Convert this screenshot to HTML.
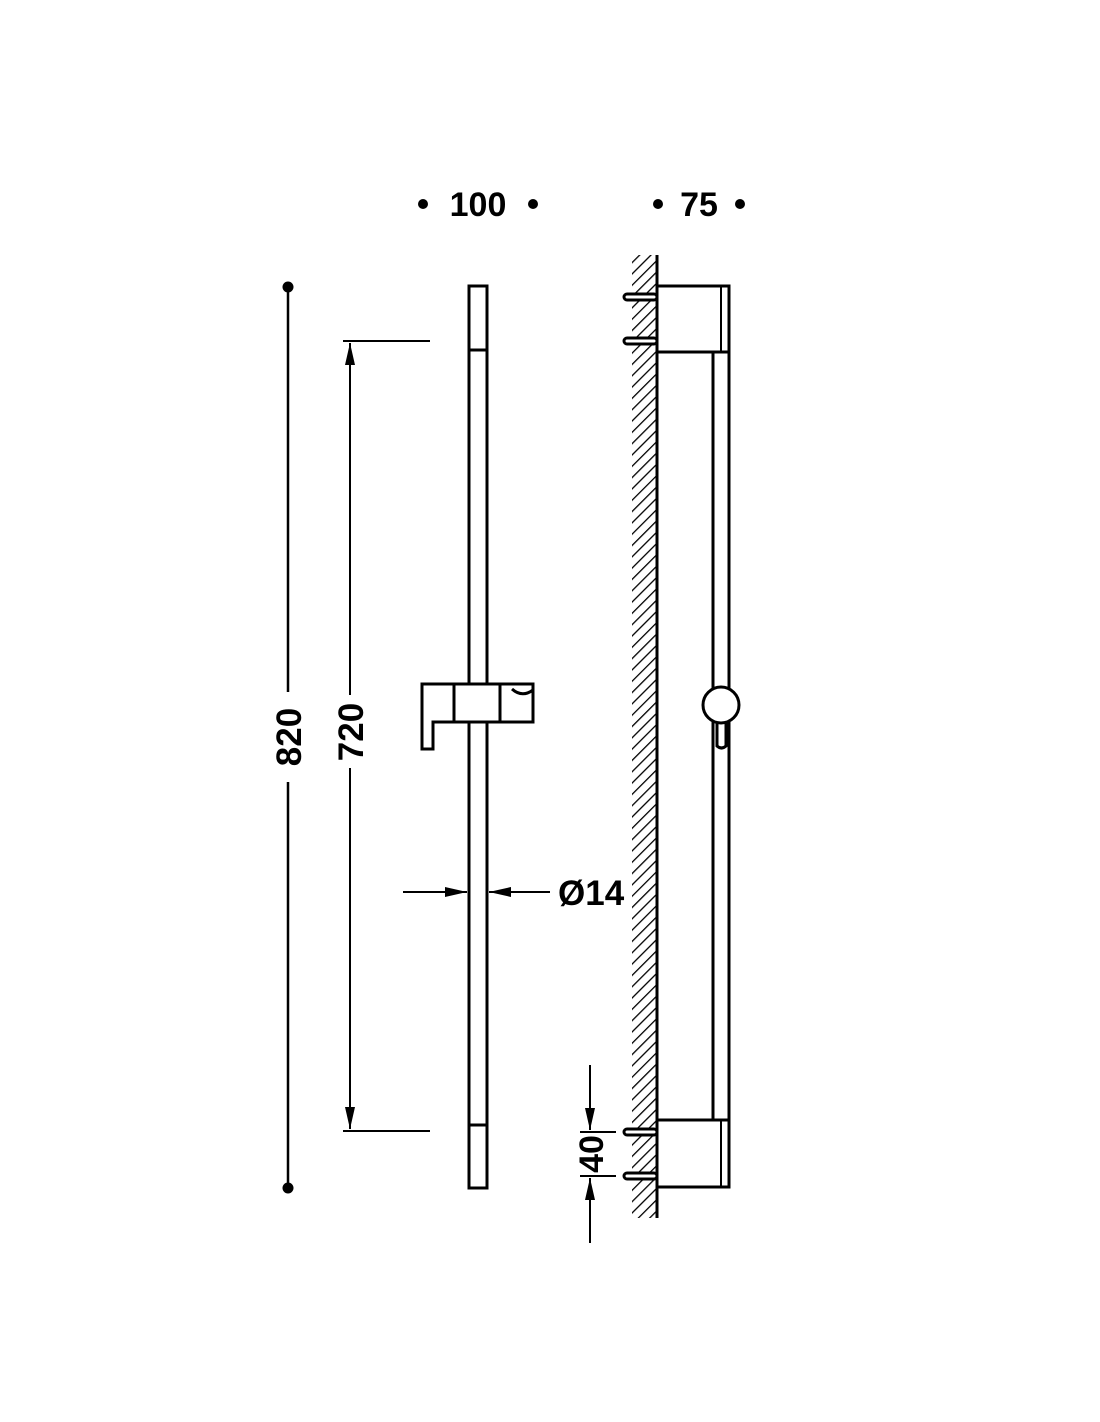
<!DOCTYPE html>
<html><head><meta charset="utf-8"><style>
html,body{margin:0;padding:0;background:#fff}
svg{display:block}
text{font-family:"Liberation Sans",sans-serif;font-weight:bold;fill:#000}
</style></head><body>
<svg width="1100" height="1422" viewBox="0 0 1100 1422" xmlns="http://www.w3.org/2000/svg">
<defs>
<pattern id="h" width="8" height="8" patternUnits="userSpaceOnUse" patternTransform="rotate(45)">
<line x1="0" y1="0" x2="0" y2="8" stroke="#000" stroke-width="2.6"/>
</pattern>
<marker id="a" markerWidth="24" markerHeight="12" refX="22" refY="6" orient="auto" markerUnits="userSpaceOnUse"><path d="M0,1 L22,6 L0,11 Z" fill="#000"/></marker>
</defs>
<text x="478" y="216" font-size="34" text-anchor="middle">100</text>
<circle cx="423" cy="204" r="5" fill="#000"/><circle cx="533" cy="204" r="5" fill="#000"/>
<text x="699" y="216" font-size="34" text-anchor="middle">75</text>
<circle cx="658" cy="204" r="5" fill="#000"/><circle cx="740" cy="204" r="5" fill="#000"/>

<!-- 820 dim -->
<g stroke="#000" stroke-width="2.5" fill="none">
<line x1="288" y1="287" x2="288" y2="692"/>
<line x1="288" y1="782" x2="288" y2="1188"/>
</g>
<circle cx="288" cy="287" r="5.5" fill="#000"/><circle cx="288" cy="1188" r="5.5" fill="#000"/>
<text transform="translate(301,737) rotate(-90)" font-size="35" text-anchor="middle">820</text>

<!-- 720 dim -->
<g stroke="#000" stroke-width="2" fill="none">
<line x1="343" y1="341" x2="430" y2="341"/>
<line x1="343" y1="1131" x2="430" y2="1131"/>
<line x1="350" y1="695" x2="350" y2="343" marker-end="url(#a)"/>
<line x1="350" y1="768" x2="350" y2="1129" marker-end="url(#a)"/>
</g>
<text transform="translate(363,732) rotate(-90)" font-size="35" text-anchor="middle">720</text>

<!-- front bar -->
<g stroke="#000" stroke-width="3" fill="#fff">
<rect x="469" y="286" width="18" height="902"/>
<line x1="469" y1="350" x2="487" y2="350"/>
<line x1="469" y1="1125" x2="487" y2="1125"/>
<path d="M422,684 L533,684 L533,722 L433,722 L433,749 L422,749 Z"/>
<line x1="454" y1="684" x2="454" y2="722"/>
<line x1="500" y1="684" x2="500" y2="722"/>
<path d="M512,689 Q522,698 533,690" fill="none"/>
</g>

<!-- Ø14 -->
<g stroke="#000" stroke-width="2" fill="none">
<line x1="403" y1="892" x2="467" y2="892" marker-end="url(#a)"/>
<line x1="550" y1="892" x2="489" y2="892" marker-end="url(#a)"/>
</g>
<text x="558" y="905" font-size="35">Ø14</text>

<!-- side view -->
<rect x="632" y="255" width="25" height="963" fill="url(#h)"/>
<g stroke="#000" stroke-width="3" fill="#fff">
<line x1="657" y1="255" x2="657" y2="1218"/>
<rect x="624" y="294" width="33" height="6" rx="3"/>
<rect x="624" y="338" width="33" height="6" rx="3"/>
<rect x="624" y="1129" width="33" height="6" rx="3"/>
<rect x="624" y="1173" width="33" height="6" rx="3"/>
<rect x="657" y="286" width="72" height="66"/>
<line x1="721" y1="286" x2="721" y2="352" stroke-width="2"/>
<rect x="657" y="1120" width="72" height="67"/>
<line x1="721" y1="1120" x2="721" y2="1187" stroke-width="2"/>
<line x1="713" y1="352" x2="713" y2="1120"/>
<line x1="729" y1="352" x2="729" y2="1120"/>
<path d="M717,715 L717,746 Q721.5,750 726,746 L726,715"/>
<circle cx="721" cy="705" r="18"/>
</g>

<!-- 40 dim -->
<g stroke="#000" stroke-width="2" fill="none">
<line x1="580" y1="1132" x2="616" y2="1132"/>
<line x1="580" y1="1176" x2="616" y2="1176"/>
<line x1="590" y1="1065" x2="590" y2="1130" marker-end="url(#a)"/>
<line x1="590" y1="1243" x2="590" y2="1178" marker-end="url(#a)"/>
</g>
<text transform="translate(603,1154) rotate(-90)" font-size="34" text-anchor="middle">40</text>
</svg>
</body></html>
